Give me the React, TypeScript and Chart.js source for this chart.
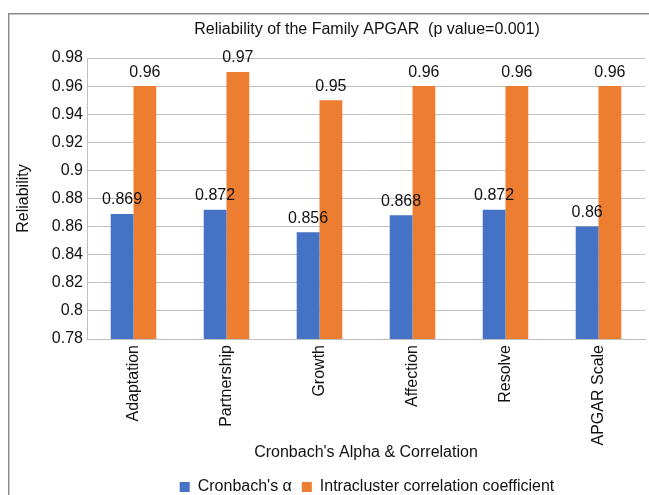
import React, { useEffect, useRef } from "react";
import { Chart, registerables } from "chart.js";

Chart.register(...registerables);

const categories = ["Adaptation", "Partnership", "Growth", "Affection", "Resolve", "APGAR Scale"];
const cronbachAlpha = [0.869, 0.872, 0.856, 0.868, 0.872, 0.86];
const intraclusterCorrelation = [0.96, 0.97, 0.95, 0.96, 0.96, 0.96];
const seriesNames = ["Cronbach's α", "Intracluster correlation coefficient"];
const chartTitle = "Reliability of the Family APGAR  (p value=0.001)";
const xAxisTitle = "Cronbach's Alpha & Correlation";
const yAxisTitle = "Reliability";
const yMin = 0.78;
const yMax = 0.98;
const yStep = 0.02;

const FONT = "'Liberation Sans', Arial, sans-serif";
const TEXT = "#111111";
const GRID = "#bfbfbf";
const BLUE = "#4472C4";
const ORANGE = "#ED7D31";

const W = 718;
const H = 497;

const framePlugin = {
  id: "frame",
  beforeDraw(chart: any) {
    const ctx = chart.ctx;
    ctx.save();
    ctx.fillStyle = "#ffffff";
    ctx.fillRect(0, 0, chart.width, chart.height);
    ctx.strokeStyle = "#8c8c8c";
    ctx.lineWidth = 1.5;
    ctx.strokeRect(0.75, 5.75, chart.width + 20, chart.height + 20);
    ctx.restore();
  },
};

const labelPlugin = {
  id: "barLabels",
  afterDatasetsDraw(chart: any) {
    const ctx = chart.ctx;
    ctx.save();
    ctx.font = `16px ${FONT}`;
    ctx.fillStyle = TEXT;
    ctx.textAlign = "center";
    ctx.textBaseline = "middle";
    chart.data.datasets.forEach((ds: any, di: number) => {
      const meta = chart.getDatasetMeta(di);
      meta.data.forEach((el: any, i: number) => {
        ctx.fillText(String(ds.data[i]), el.x, el.y - 14);
      });
    });
    ctx.restore();
  },
};

export default function App() {
  const ref = useRef<HTMLCanvasElement | null>(null);

  useEffect(() => {
    if (!ref.current) return;
    const chart = new Chart(ref.current, {
      type: "bar",
      data: {
        labels: categories,
        datasets: [
          {
            label: seriesNames[0],
            data: cronbachAlpha,
            backgroundColor: BLUE,
            borderWidth: 0,
            categoryPercentage: 0.49,
            barPercentage: 1,
          },
          {
            label: seriesNames[1],
            data: intraclusterCorrelation,
            backgroundColor: ORANGE,
            borderWidth: 0,
            categoryPercentage: 0.49,
            barPercentage: 1,
          },
        ],
      },
      options: {
        responsive: false,
        animation: false,
        devicePixelRatio: 1,
        layout: { padding: 0 },
        plugins: {
          title: {
            display: true,
            text: chartTitle,
            color: TEXT,
            font: { family: FONT, size: 16, weight: "normal" },
            padding: { top: 12.4, bottom: 18.4 },
          },
          legend: {
            display: true,
            position: "bottom",
            labels: {
              color: TEXT,
              font: { family: FONT, size: 16 },
              boxWidth: 10,
              boxHeight: 10,
              padding: 10,
            },
          },
          tooltip: { enabled: false },
        },
        scales: {
          x: {
            grid: { display: false, drawTicks: false },
            border: { display: true, color: GRID },
            ticks: {
              color: TEXT,
              font: { family: FONT, size: 16 },
              minRotation: 90,
              maxRotation: 90,
              autoSkip: false,
              padding: 6,
            },
            title: {
              display: true,
              text: xAxisTitle,
              color: TEXT,
              font: { family: FONT, size: 16 },
              padding: { top: 0, bottom: 6.4 },
            },
            afterFit(s: any) {
              s.height = 130;
            },
          },
          y: {
            min: yMin,
            max: yMax,
            grid: { color: GRID, drawTicks: false },
            border: { display: true, color: GRID },
            ticks: {
              stepSize: yStep,
              color: TEXT,
              font: { family: FONT, size: 16 },
              padding: 4,
              callback: (v: any) => String(Math.round(Number(v) * 100) / 100),
            },
            title: {
              display: true,
              text: yAxisTitle,
              color: TEXT,
              font: { family: FONT, size: 16 },
              padding: { top: 6, bottom: 0 },
            },
            afterFit(s: any) {
              s.width = 79;
            },
          },
          yRight: {
            type: "linear",
            position: "right",
            display: true,
            grid: { display: false, drawTicks: false },
            border: { display: false },
            ticks: { display: false },
            afterFit(s: any) {
              s.width = 81;
            },
          },
        },
      } as any,
      plugins: [framePlugin, labelPlugin],
    });
    return () => chart.destroy();
  }, []);

  return (
    <div
      style={{
        position: "absolute",
        left: 8,
        top: 8,
        width: 641,
        height: 487,
        overflow: "hidden",
      }}
    >
      <canvas ref={ref} width={W} height={H} style={{ display: "block", width: W, height: H }} />
    </div>
  );
}
